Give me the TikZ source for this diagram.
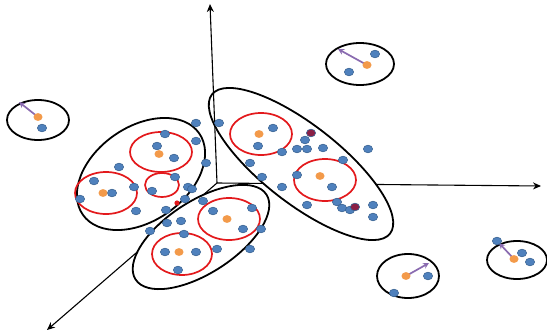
\documentclass[tikz,border=0pt]{standalone}
\usetikzlibrary{arrows.meta}
\definecolor{PtBlue}{HTML}{4F81BD}
\definecolor{PtBlueEdge}{HTML}{3A6494}
\definecolor{PtOrange}{HTML}{F39A4A}
\definecolor{PtMaroon}{HTML}{8A1F45}
\definecolor{RingRed}{HTML}{E3191C}
\definecolor{ShiftViolet}{HTML}{8A6BB0}
\tikzset{
  clu outline/.style={draw=black,fill=white,line width=1.8pt},
  clu ring/.style={draw=RingRed,line width=1.7pt},
  clu point/.style={fill=PtBlue,draw=PtBlueEdge,line width=0.6pt},
  clu noise/.style={fill=PtMaroon,draw=PtBlueEdge,line width=0.6pt},
  clu center/.style={fill=PtOrange},
  clu axis/.style={-{Stealth[length=8pt,width=7pt]},line width=1.1pt},
  clu shift/.style={-{Stealth[length=6pt,width=6pt]},draw=ShiftViolet,line width=1.7pt}
}

\begin{document}
\begin{tikzpicture}[x=1pt,y=-1pt]
  \useasboundingbox (0,0) rectangle (547,335);

  % axes
  \coordinate (origin) at (217,183);
  \coordinate (xend) at (541,186);
  \coordinate (yend) at (210,4);
  \coordinate (zend) at (47,330);
  \draw[clu axis] (origin) -- (xend);
  \draw[clu axis] (origin) -- (zend);

  % cluster hulls
  \draw[clu outline,rotate around={35:(141,174)}] (141,174) ellipse [x radius=71,y radius=47];
  \draw[clu outline,rotate around={-38:(301,164)}] (301,164) ellipse [x radius=113,y radius=39];
  \draw[clu outline,rotate around={33:(201,237)}] (201,237) ellipse [x radius=78,y radius=36];
  \draw[clu outline] (38,120) ellipse [x radius=31,y radius=20];
  \draw[clu outline] (360,64) ellipse [x radius=34,y radius=21];
  \draw[clu outline] (408,276) ellipse [x radius=31,y radius=22];
  \draw[clu outline] (517,260) ellipse [x radius=30,y radius=19];

  \draw[clu axis] (origin) -- (yend);

  % local neighbourhoods
  \foreach \cx/\cy/\rx/\ry in {161/152/31/20,162/185/17/12,106/193/31/21,
      261/134/31/21,325/180/31/21,229/219/31/21,182/254/30/21}
    \draw[clu ring] (\cx,\cy) ellipse [x radius=\rx,y radius=\ry];

  % mean shift steps
  \coordinate (m1) at (38,117);   \coordinate (m1to) at (19,102);
  \coordinate (m2) at (367,65);   \coordinate (m2to) at (338,49);
  \coordinate (m3) at (406,276);  \coordinate (m3to) at (429,263);
  \coordinate (m4) at (514,259);  \coordinate (m4to) at (499,243);
  \draw[clu shift] (m1) -- (m1to);
  \draw[clu shift] (m2) -- (m2to);
  \draw[clu shift] (m3) -- (m3to);
  \draw[clu shift] (m4) -- (m4to);

  % samples
  \foreach \x/\y in {196/123,165/134,157/146,174/158,196/141,206/163,119/167,94/181,
      112/193,134/187,80/199,152/191,175/177,188/187,192/189,185/199,136/211,166/210,
      203/201,213/211,167/223,181/221,150/231,184/234,
      219/123,273/128,258/146,282/152,305/140,297/149,307/149,323/148,368/149,343/160,
      250/163,262/177,297/175,332/187,282/187,307/205,337/202,342/208,350/210,373/205,
      373/217,252/208,
      243/229,261/229,165/252,196/252,178/270,217/249,250/249,
      42/128,375/54,349/72,428/276,394/293,522/253,530/262,497/241}
    \draw[clu point] (\x,\y) ellipse [x radius=4.6,y radius=3.8];
  \foreach \x/\y in {311/133,355/207}
    \draw[clu noise] (\x,\y) ellipse [x radius=4.6,y radius=3.8];
  \fill[RingRed] (177,203) circle [radius=2.6];

  % modes
  \foreach \x/\y in {38/117,367/65,406/276,514/259,159/154,103/193,259/134,320/176,
      227/219,179/252}
    \fill[clu center] (\x,\y) ellipse [x radius=4.5,y radius=3.9];
\end{tikzpicture}
\end{document}
